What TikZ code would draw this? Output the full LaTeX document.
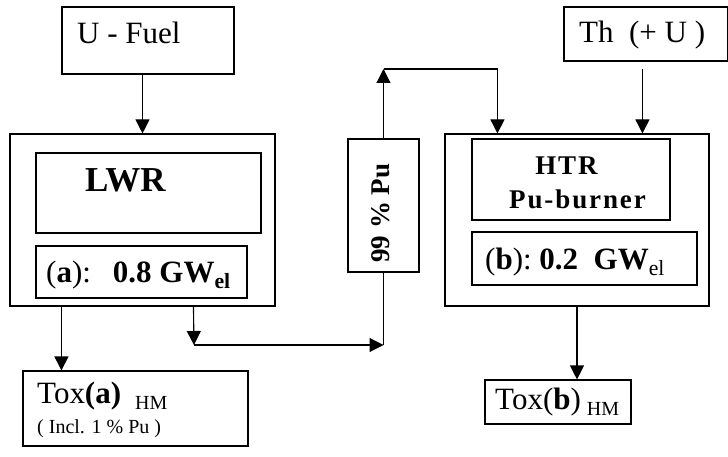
\documentclass[tikz,border=0pt]{standalone}
\usepackage{fontspec}
\setmainfont{Liberation Serif}
\usetikzlibrary{arrows.meta,positioning,calc}
\tikzset
{
    box/.style   = {rectangle, draw=black, line width=1.1pt, inner sep=0pt},
    label/.style = {inner sep=0pt, anchor=base west},
    title/.style = {inner sep=0pt, anchor=base, font=\fsmid\bfseries\addfontfeatures{LetterSpace=7}},
    flow/.style  = {line width=1.1pt, -{Triangle[length=14pt,width=14pt]}},
    link/.style  = {line width=1.1pt}
}
\newcommand{\fsbig}{\fontsize{31}{35}\selectfont}
\newcommand{\fsmid}{\fontsize{27}{31}\selectfont}
\newcommand{\fssub}{\fontsize{20}{22}\selectfont}

\begin{document}
\begin{tikzpicture}[x=1pt,y=-1pt]
\useasboundingbox (0,0) rectangle (728,457);
% left branch
\node[box, minimum width=172pt, minimum height=67pt] (ufuel) at (148,40.5) {};
\node[label] (ufueltxt) at (77,44) {\fsbig U - Fuel};
\node[box, minimum width=265pt, minimum height=172pt] (lwr) at (142.5,220) {};
\node[box, minimum width=225pt, minimum height=80pt] (lwrcore) at (148.5,193) {};
\node[label] (lwrtxt) at (85,192) {\fontsize{35}{40}\selectfont\bfseries LWR};
\node[box, minimum width=211pt, minimum height=52pt] (powa) at (141.5,272) {};
\node[label] (powatxt) at (46,282) {\fsbig(\textbf{a}):\hspace{22pt}\textbf{0.8 GW\textsubscript{el}}};
\node[box, minimum width=225pt, minimum height=75pt] (toxa) at (135.5,408.5) {};
\node[label] (toxatxt) at (37,403) {\fsbig Tox\textbf{(a)}\hspace{14pt}\raisebox{-6pt}{\fssub HM}};
\node[label] (inclmix) at (37,433) {\fssub ( Incl. 1 \% Pu )};
% plutonium stream
\node[box, minimum width=71pt, minimum height=133pt] (pu) at (383.5,205.5) {};
\node[inner sep=0pt, rotate=90, font=\bfseries] (putxt) at (381,213) {\fsmid 99 \% Pu};
% right branch
\node[box, minimum width=164pt, minimum height=54pt] (thor) at (646,34) {};
\node[label] (thortxt) at (579,43) {\fsbig Th\ \ (+ U )};
\node[box, minimum width=264pt, minimum height=172pt] (htr) at (577,220) {};
\node[box, minimum width=198pt, minimum height=81pt] (htrcore) at (571,179.5) {};
\node[title] (htrtxt) at (566.5,175) {HTR};
\node[title] (burntxt) at (577.5,209) {Pu-burner};
\node[box, minimum width=225pt, minimum height=53pt] (powb) at (584.5,258.5) {};
\node[label] (powbtxt) at (485,269) {\fsbig(\textbf{b}):\ \textbf{0.2\ \ GW}\textsubscript{el}};
\node[box, minimum width=146pt, minimum height=44pt] (toxb) at (558,402) {};
\node[label] (toxbtxt) at (495,409) {\fsbig Tox(\textbf{b})\hspace{6pt}\raisebox{-6pt}{\fssub HM}};
% connectors
\coordinate (split) at (194,345);
\coordinate (corner) at (pu.south |- split);
\coordinate (turn) at (pu.north |- 0,69);
\coordinate (feed) at ([xshift=53pt]htr.north west |- turn);
\draw[flow] (ufuel.south -| lwr.north) -- (lwr.north);
\draw[flow] ([xshift=52pt]lwr.south west) -- ([xshift=52pt]lwr.south west |- toxa.north);
\draw[flow] ([xshift=184pt]lwr.south west) -- (split);
\draw[flow] (split) -- (corner);
\draw[link] (corner) -- (pu.south);
\draw[flow] (pu.north) -- (turn);
\draw[flow] (turn) -- (feed) -- (feed |- htr.north);
\draw[flow] ([xshift=198pt]htr.north west |- turn) -- ([xshift=198pt]htr.north west);
\draw[flow] (htr.south) -- (htr.south |- toxb.north);
\end{tikzpicture}
\end{document}
